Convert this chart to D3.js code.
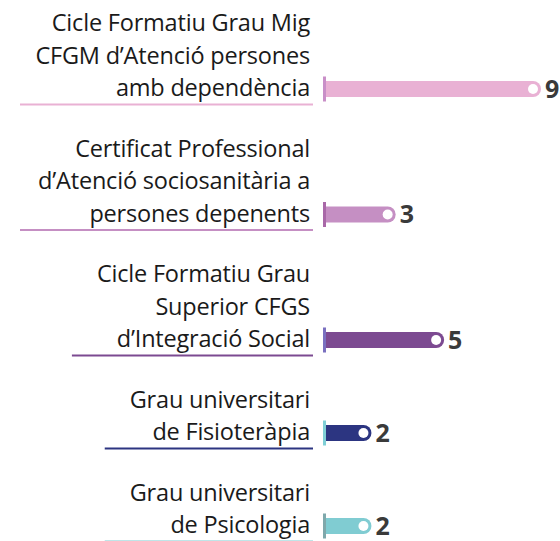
<!DOCTYPE html>
<html>
<head>
<meta charset="utf-8">
<script src="https://cdn.jsdelivr.net/npm/d3@7"></script>
<style>
  body { margin: 0; background: #fff; }
  svg { display: block; }
</style>
</head>
<body>
<svg id="chart" width="560" height="541"></svg>
<script>
// data
const labels = [
  ["Cicle Formatiu Grau Mig", "CFGM d\u2019Atenció persones", "amb dependència"],
  ["Certificat Professional", "d\u2019Atenció sociosanitària a", "persones depenents"],
  ["Cicle Formatiu Grau", "Superior CFGS", "d\u2019Integració Social"],
  ["Grau universitari", "de Fisioteràpia"],
  ["Grau universitari", "de Psicologia"]
];
const values = [9, 3, 5, 2, 2];
const barColors = ["#e9b1d4", "#c58fc3", "#7c4a91", "#2c3581", "#80ccd2"];
const tickColors = ["#c98fc8", "#a968a8", "#7a70c0", "#7fcfd6", "#7fa8ab"];

function drawChart(target){
    let chart = d3.select(target);
    let lineH = 32.5;
    let gap = 28;
    let x0 = 323;
    let x = d3.scaleLinear().domain([0, 9]).range([x0, 541]);
    let barH = 16;
    let textRight = 310;

    // row centres, stacked by how many label lines each row has
    let centers = [];
    let c = 89;
    for(let i=0;i<labels.length;i++){
        if(i>0) c += labels[i].length*lineH + gap;
        centers.push(c);
    }

    let rows = chart.selectAll('g.row')
        .data(values)
        .join('g').classed('row', true)
        .attr('transform', (d,i)=>`translate(0, ${centers[i]})`);

    rows.each(function(d,i){
        let g = d3.select(this);
        let lines = labels[i];
        let txt = g.append('text')
            .attr('text-anchor', 'end')
            .attr('font-family', '"Open Sans", sans-serif')
            .attr('font-size', 23.5)
            .attr('letter-spacing', -0.2)
            .attr('fill', '#1a1a1a');
        lines.forEach((l,k)=>{
            txt.append('tspan')
                .attr('x', textRight)
                .attr('y', 7 - (lines.length-1-k)*lineH)
                .text(l);
        });
        let bb = txt.node().getBBox();
        let ux = Math.max(20, bb.x - 25);
        g.append('line')
            .attr('x1', ux).attr('x2', 313)
            .attr('y1', 15.5).attr('y2', 15.5)
            .attr('stroke', barColors[i]).attr('stroke-width', 2);

        let xe = x(d);
        let r = barH/2;
        g.append('path')
            .attr('d', `M${x0},${-r} H${xe-r} A${r},${r} 0 0 1 ${xe-r},${r} H${x0} Z`)
            .attr('fill', barColors[i]);
        g.append('rect')
            .attr('x', x0).attr('y', -12.5)
            .attr('width', 3).attr('height', 25)
            .attr('fill', tickColors[i]);
        g.append('circle')
            .attr('cx', xe - 8).attr('cy', 0).attr('r', 5)
            .attr('fill', '#fff');
        g.append('text')
            .attr('x', xe + 4).attr('y', 8.5)
            .attr('font-family', '"Open Sans", sans-serif')
            .attr('font-weight', 'bold')
            .attr('font-size', 25)
            .attr('fill', '#3a3a3a')
            .text(d);
    });
}
drawChart('#chart');
</script>
</body>
</html>
